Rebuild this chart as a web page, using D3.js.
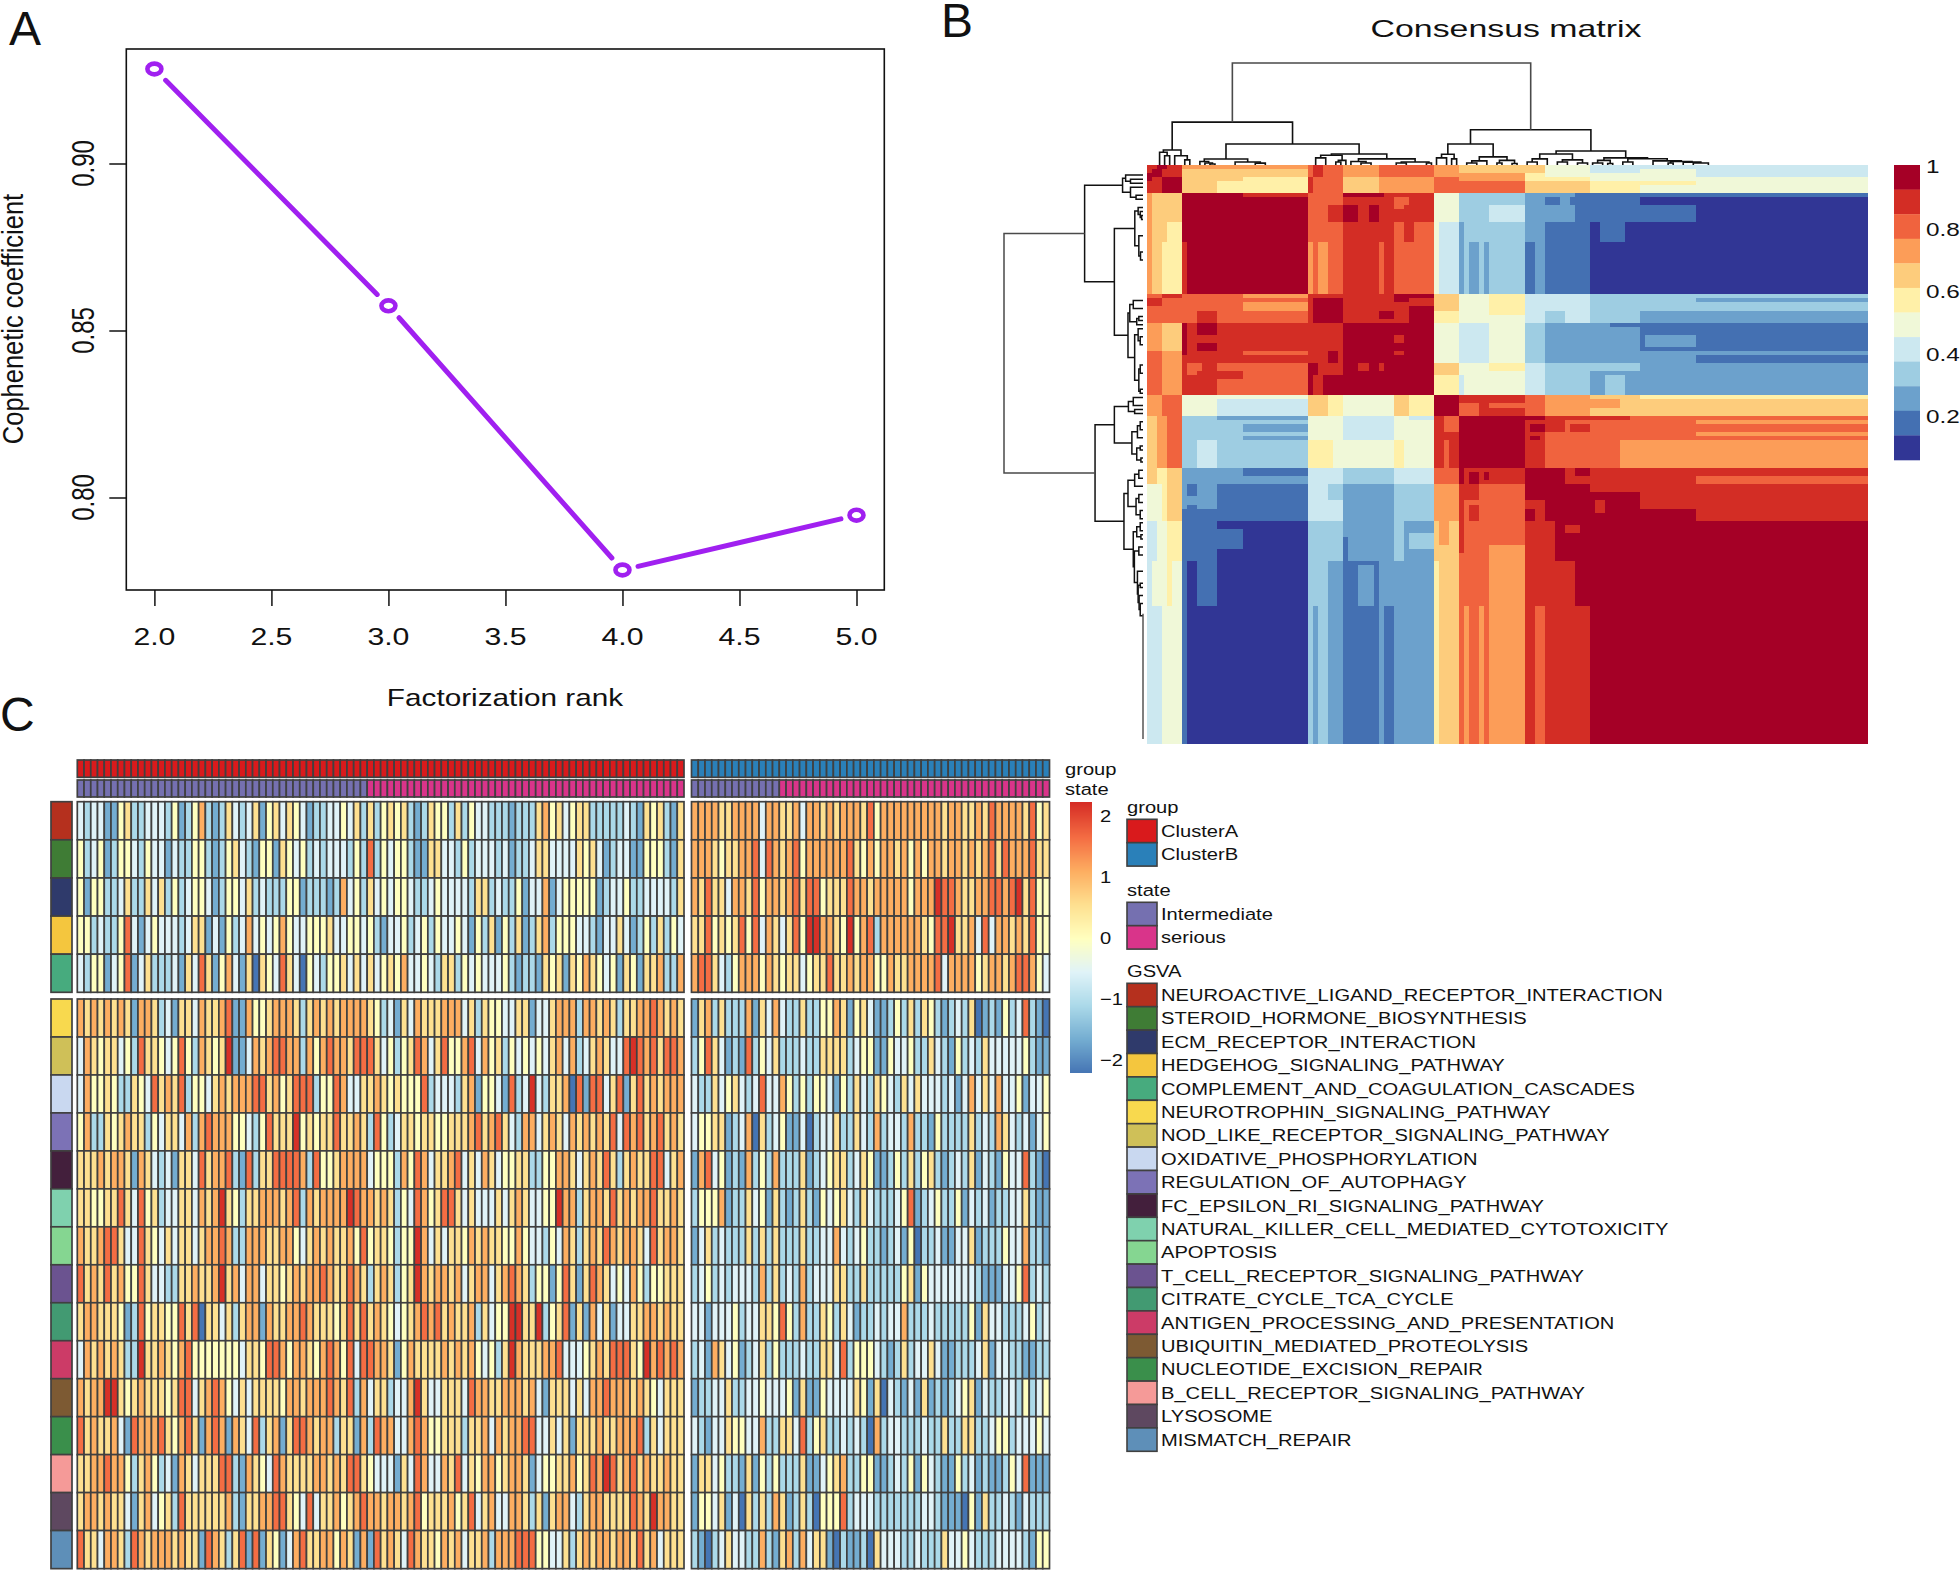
<!DOCTYPE html>
<html><head><meta charset="utf-8">
<script src="https://d3js.org/d3.v7.min.js"></script>
<style>html,body{margin:0;padding:0;background:#fff}svg{display:block}text{font-family:"Liberation Sans",Arial,sans-serif;fill:#111}</style>
</head><body><svg id="c" width="1960" height="1570"></svg>
<script>
// ---------- Panel A data ----------
const rankValues=[2,3,4,5];
const copheneticValues=[0.9283,0.8574,0.7783,0.7947];
const rankTicks=[2,2.5,3,3.5,4,4.5,5];
const copheneticTicks=[0.80,0.85,0.90];

// ---------- Panel B data ----------
const consensusColors=["#313695","#4470b2","#6ca1cc","#9ecde2","#cce8f0","#f0f8d8","#fff0a8","#fdcc7c","#fc9d58","#f0633e","#d32d25","#a50026"];
const consensusLetters="ABCDEFGHIJKL";
const consensusTicks=[1,0.8,0.6,0.4,0.2];
const sampleCount=143;
const bandEdges=[0,3,7,14,19,32,39,49,57,62,68,75,79,88,98,109,143];
const bandLevels=[
"KKHHHJIIJGIGFFFE",
"KLGGGJIIKIJHGGFF",
"HGLLLJKKFDECCBAA",
"HGLLLJKJEDDCBAAA",
"HGLLLJKJEDDCBAAA",
"JJJJJLKKHFGEEDDC",
"IHKKKKLLFEFDCCBB",
"IHKJJKLLGFFEDCCC",
"JKFEEHFGLKKJIHHH",
"GIDDDFEFKLLKJJJJ",
"IJEDDGFFKLLKJIII",
"GHCCCEDEJKKLKKKK",
"FGCBBECDIJJKLKKK",
"FGBAADCCHJIKKLLL",
"FFAAADBCHJIKKLLL",
"EFAAACBCHJIKKLLL"];
const consensusPatches=[
[0,1,0,1,'K'],[0,1,2,3,'L'],[1,3,1,3,'L'],[3,4,0,1,'L'],
[7,32,0,1,'I'],[7,32,1,4,'H'],[7,32,4,7,'G'],[7,14,4,7,'H'],[19,32,3,7,'G'],
[39,57,0,1,'J'],[39,57,1,3,'I'],[39,57,3,5,'H'],[39,57,5,7,'I'],
[57,62,0,3,'I'],[57,62,3,7,'J'],[62,75,0,2,'H'],[62,75,2,4,'I'],[62,75,4,7,'J'],
[75,79,0,2,'H'],[75,79,2,4,'G'],[75,79,4,7,'H'],[79,88,4,7,'H'],
[88,98,0,2,'E'],[88,98,2,4,'F'],[88,98,4,7,'G'],[98,109,0,1,'E'],[98,109,4,5,'G'],
[0,1,10,19,'I'],[5,7,10,14,'H'],[0,3,33,35,'K'],[3,7,32,33,'K'],
[0,3,39,46,'I'],[3,7,39,46,'H'],[0,3,46,57,'J'],[3,7,46,57,'I'],
[7,8,19,32,'K'],[19,32,7,8,'K'],[7,8,39,47,'L'],[10,14,39,42,'L'],[10,14,45,46,'L'],[10,14,37,39,'K'],
[9,11,49,51,'J'],[14,19,52,53,'K'],[19,32,32,33,'I'],[19,32,34,36,'I'],[19,32,46,47,'I'],
[36,39,10,14,'K'],[39,42,10,14,'L'],[39,46,7,8,'L'],[44,45,10,14,'L'],[46,47,19,32,'J'],
[49,52,8,10,'J'],[51,52,14,19,'K'],[32,33,32,39,'K'],[49,52,32,34,'L'],[52,57,32,33,'L'],[52,57,35,38,'L'],
[49,51,42,44,'K'],[49,51,46,47,'K'],[32,33,53,57,'L'],[35,39,52,57,'L'],[36,38,46,49,'L'],
[7,8,88,143,'B'],[8,10,98,109,'A'],[10,14,98,109,'B'],[7,14,85,88,'B'],[8,10,79,82,'B'],[8,10,84,88,'B'],
[14,19,90,95,'B'],[19,32,75,77,'B'],[19,32,64,66,'C'],[19,32,67,68,'C'],[14,32,62,63,'C'],[7,10,62,75,'D'],[14,32,57,58,'F'],
[32,33,109,143,'D'],[34,36,109,143,'D'],[36,39,98,109,'C'],[36,39,79,83,'D'],[37,39,68,75,'F'],[32,36,57,62,'H'],[36,39,57,62,'G'],
[42,45,99,109,'C'],[39,40,92,143,'B'],[46,47,79,143,'C'],[47,49,98,109,'C'],[39,46,79,82,'C'],
[52,57,91,95,'D'],[49,51,85,98,'D'],[49,51,68,75,'G'],[49,52,57,62,'H'],[52,57,62,63,'E'],
[57,58,98,143,'G'],[58,60,88,94,'I'],
[63,64,109,143,'I'],[66,67,109,143,'I'],[62,63,75,79,'L'],[62,63,79,96,'K'],[64,66,77,79,'L'],[64,66,79,83,'K'],[64,66,85,88,'K'],
[62,68,57,59,'K'],[62,68,59,62,'J'],[66,68,57,62,'K'],[79,83,62,66,'K'],[83,88,62,63,'K'],[84,87,64,66,'K'],[88,94,68,75,'J'],
[68,75,57,59,'K'],[68,75,59,60,'J'],[68,75,60,62,'K'],[75,79,62,63,'L'],[76,78,64,66,'L'],[76,78,67,68,'L'],[75,79,79,83,'L'],[75,77,85,88,'L'],
[88,98,79,81,'K'],[88,98,81,88,'L'],[89,91,83,86,'K'],[98,109,85,88,'L'],[109,143,77,79,'J'],[98,143,57,58,'G'],[109,143,46,47,'C']];
// dendrogram merges: [height, left, right], leaves are sample numbers
const clusterFirst=[.147,[.125,2,[.09,3,4]],[.09,5,[.05,7,8]]];
const clusterSecond=[.059,[.035,10,[.02,11,[.01,12,13]]],[.03,17,[.018,21,23]]];
const clusterThird=[.108,[.095,[.07,33,35],[.045,[.03,37,38],39]],[.06,[.035,40,[.02,42,44]],[.03,[.02,49,51],[.02,55,56]]]];
const clusterFourth=[.206,[.105,[.07,57,59],[.06,60,61]],[.08,[.04,[.02,63,65],67],[.045,[.02,69,70],[.015,72,73]]]];
const clusterFifth=[.137,[.108,[.06,[.03,75,77],79],[.05,[.03,81,83],[.02,85,87]]],
 [.07,[.045,[.02,88,90],[.015,91,92]],[.062,[.03,94,96],[.04,100,[.035,[.02,103,104],[.028,106,[.02,108,111]]]]]]];
const dendroTree=[1,[.42,clusterFirst,[.206,clusterSecond,clusterThird]],[.345,clusterFourth,clusterFifth]];
const flatTail=[111,142];

// ---------- Panel C data ----------
const groupLevels=["ClusterA","ClusterB"];
const groupColors=["#d91a1c","#2a80b9"];
const stateLevels=["Intermediate","serious"];
const stateColors=["#7570b0","#d9348a"];
const groupSizes=[90,53];
const intermediateCounts=[43,13];
const pathways=["NEUROACTIVE_LIGAND_RECEPTOR_INTERACTION","STEROID_HORMONE_BIOSYNTHESIS","ECM_RECEPTOR_INTERACTION","HEDGEHOG_SIGNALING_PATHWAY","COMPLEMENT_AND_COAGULATION_CASCADES","NEUROTROPHIN_SIGNALING_PATHWAY","NOD_LIKE_RECEPTOR_SIGNALING_PATHWAY","OXIDATIVE_PHOSPHORYLATION","REGULATION_OF_AUTOPHAGY","FC_EPSILON_RI_SIGNALING_PATHWAY","NATURAL_KILLER_CELL_MEDIATED_CYTOTOXICITY","APOPTOSIS","T_CELL_RECEPTOR_SIGNALING_PATHWAY","CITRATE_CYCLE_TCA_CYCLE","ANTIGEN_PROCESSING_AND_PRESENTATION","UBIQUITIN_MEDIATED_PROTEOLYSIS","NUCLEOTIDE_EXCISION_REPAIR","B_CELL_RECEPTOR_SIGNALING_PATHWAY","LYSOSOME","MISMATCH_REPAIR"];
const pathwayColors=["#b5301e","#3f7c35","#2f3a6b","#f4c63e","#47ab7e","#f8d94e","#cfc058","#c9d8f0","#7c72b6","#431f3c","#7fd1ae","#85d691","#6b5390","#429a72","#cc3b67","#7d5a33","#3a8f4b","#f59a98","#5e4860","#5e8fb8"];
const upperRowCount=5;
// digits index zLevels
const zLevels=[-2.2,-1.65,-1.1,-0.55,0,0.55,1.1,1.65,2.2];
const zColors=["#4575b4","#74add1","#abd9e9","#e0f3f8","#ffffbf","#fee090","#fdae61","#f46d43","#d73027"];
const zTicks=[2,1,0,-1,-2];
const gsvaA=[
["3233114522","3332412462","1253235145","3543122334","3525245452","1254425243","3222122256","4534552222","2321545215"],
["4234124432","4331322442","1245321441","5434232333","2427243442","1155332423","3323122355","3333545312","3311444215"],
["4144223522","5352423443","1244352322","2441222126","3425343443","2234333325","5232241336","1344444123","3422333325"],
["4423224731","3433323551","3142363434","6433444533","4434213342","3424334314","2514251256","2444332133","5312425243"],
["3244134713","5222315375","1463150543","7530432445","3535345463","3432552434","3334212215","4515465434","1541556226"],
["6565656516","6523155365","5671164456","6652565656","6665423153","6555666352","5443355133","5666266565","2556676565"],
["3654553427","5543474265","4581136567","7662646766","5777534245","7635744673","6452434343","5636235653","3787675776"],
["3644542254","3756572443","5656667756","4577724476","3355654544","4723332561","4431723832","5560717735","7157565666"],
["4622545655","2435536267","6664432475","5584545575","5652742355","4554455567","5675326635","6536565657","3767567565"],
["5556566516","5323155375","6672172557","7776274456","6663444264","7635567353","6534455224","4665356575","2565577356"],
["5544557537","4523355365","6854255666","5672656666","8766565243","7645775353","3353565334","4866256657","5656675565"],
["6556775337","5435355356","6762266655","6643565655","6474554244","8635355465","6554464332","4365256576","5665375665"],
["7565756447","5332255655","6856366355","4565667655","7652565245","8656656356","6356765244","1475157653","4364244555"],
["5665554127","4554475705","5352566165","5667655545","7575654345","6767565562","5344885582","4571516351","3355665655"],
["3656565228","5565467444","4444355477","6466546764","7377665146","5555656564","3425865556","6733345657","7754867676"],
["6566885456","5554577356","7643535555","4665666765","7263552336","8533555376","6556665631","5553536676","6656543555"],
["7565563176","6675467516","7616537256","1577656625","5162766336","7644555255","6365667733","5351555655","6667253555"],
["5566766425","6423165355","5772165437","6555566565","7754333153","7633657354","6645665134","4556457687","5675655655"],
["5665655315","6345275555","5562155667","7543735564","5676656656","7455564573","5633665251","5663256655","5576586655"],
["7553665276","5666565517","6525717154","1367556646","5161756537","6554656355","6266677744","3352565665","6657563555"]];
const gsvaB=[
["6666556666","3665563665","6566657466","6666666566","5565766665","745"],
["6665455667","3765674666","6667546466","5646466566","5656757666","755"],
["6575536657","4665675774","5557665666","6646668776","5566776785","744"],
["5574545747","3653574886","6548467266","6666547785","5637366565","744"],
["6775324666","4654553455","7556566446","5566667366","6645665677","643"],
["1562522261","5363225224","4651453112","4252542123","2501214237","210"],
["2475312172","4352223225","5552344114","3342253214","2325333334","211"],
["3225345323","7336424244","3142532543","2535333231","3635363341","334"],
["3445512360","5234113023","3522532623","3262214222","2523265323","134"],
["1673412162","4262225123","4552354112","4252452123","2513214337","210"],
["2444612253","4152125214","3453253222","3471234224","1323122335","211"],
["1352322252","5252225223","3632342212","3140223113","3512224336","221"],
["2342323332","6252326233","3552252222","2451433333","3321113347","232"],
["3313334233","5547426225","4253122323","3622232222","2415332223","423"],
["2316534123","5242223225","5372444321","2523353112","2235133221","122"],
["1223352233","4333415114","3333541503","2131512123","4513223324","234"],
["3213354433","6225537245","2232320623","3222322522","5522344233","343"],
["1553422151","4242225113","4562244112","3241432114","2312112437","111"],
["1443513052","5265125204","4472333222","2222332111","0415223213","222"],
["2102353322","6215626355","1021120533","3223222533","4322233332","144"]];

// ---------- helpers ----------
const svg=d3.select("#c");
function label(x,y,s,size,sx=1,anchor="start",rot=0,g=svg){
  return g.append("text").attr("transform",`translate(${x},${y}) scale(${sx},1) rotate(${rot})`)
    .attr("font-size",size).attr("text-anchor",anchor).text(s);
}
label(9,45,"A",48);label(941,37,"B",48);label(0,731,"C",48);

// ---------- Panel A ----------
{
 const x=d3.scaleLinear().domain([2,5]).range([154.4,856.5]);
 const y=d3.scaleLinear().domain([.8,.9]).range([497.5,163.5]);
 const g=svg.append("g");
 g.append("rect").attr("x",126.3).attr("y",49).attr("width",758).attr("height",541).attr("fill","none").attr("stroke","#111").attr("stroke-width",1.6);
 const ax=g.append("g").attr("transform","translate(0,590)").call(d3.axisBottom(x).tickValues(rankTicks).tickSize(16).tickFormat(""));
 const ay=g.append("g").attr("transform","translate(126.3,0)").call(d3.axisLeft(y).tickValues(copheneticTicks).tickSize(17).tickFormat(""));
 [ax,ay].forEach(a=>{a.selectAll(".domain").remove();a.selectAll("line").attr("stroke","#111").attr("stroke-width",1.5);});
 rankTicks.forEach(t=>label(x(t),645,t.toFixed(1),24,1.26,"middle"));
 copheneticTicks.forEach(t=>label(93.5,y(t),t.toFixed(2),24,1.27,"middle",-90));
 label(505,706,"Factorization rank",24,1.24,"middle");
 label(23,319,"Cophenetic coefficient",25.5,1.14,"middle",-90);
 const pts=rankValues.map((r,i)=>[x(r),y(copheneticValues[i])]);
 d3.pairs(pts).forEach(([a,b])=>{
   const dx=b[0]-a[0],dy=b[1]-a[1],L=Math.hypot(dx,dy),g1=16/L;
   g.append("line").attr("x1",a[0]+dx*g1).attr("y1",a[1]+dy*g1).attr("x2",b[0]-dx*g1).attr("y2",b[1]-dy*g1)
    .attr("stroke","#a020f0").attr("stroke-width",5).attr("stroke-linecap","round");
 });
 g.selectAll("ellipse").data(pts).join("ellipse").attr("cx",d=>d[0]).attr("cy",d=>d[1]).attr("rx",7).attr("ry",5.4)
  .attr("fill","#fff").attr("stroke","#a020f0").attr("stroke-width",4.6);
}

// ---------- Panel B ----------
{
 const samples=d3.range(sampleCount);
 const X0=1147,X1=1867,Y0=165,Y1=743;
 const xb=d3.scaleBand().domain(samples).range([X0,X1]);
 const yb=d3.scaleBand().domain(samples).range([Y0,Y1]);
 const bandOf=d3.bisector(d=>d).right;
 const M=samples.map(r=>samples.map(c=>bandLevels[bandOf(bandEdges,r)-1][bandOf(bandEdges,c)-1]));
 consensusPatches.forEach(([r0,r1,c0,c1,v])=>{
   for(let r=r0;r<r1;r++)for(let c=c0;c<c1;c++){M[r][c]=v;M[c][r]=v;}
 });
 const fill=d3.scaleOrdinal().domain(consensusLetters.split("")).range(consensusColors);
 const cells=[];samples.forEach(r=>samples.forEach(c=>cells.push({r,c,v:M[r][c]})));
 svg.append("g").attr("shape-rendering","crispEdges").selectAll("rect").data(cells).join("rect")
  .attr("x",d=>xb(d.c)).attr("y",d=>yb(d.r)).attr("width",xb.bandwidth()+.6).attr("height",yb.bandwidth()+.6).attr("fill",d=>fill(d.v));
 // dendrograms share the same merges
 const hTop=d3.scaleLinear().domain([0,1]).range([165,63]);
 const hLeft=d3.scaleLinear().domain([0,1]).range([1143,1004]);
 const top=svg.append("g").attr("fill","none").attr("stroke","#111").attr("stroke-width",1.6);
 const left=svg.append("g").attr("fill","none").attr("stroke","#111").attr("stroke-width",1.5);
 function walk(n){
   if(typeof n==="number")return{p:n+.5,h:0};
   const a=walk(n[1]),b=walk(n[2]),h=n[0];
   const st=h===1?"#4a4a4a":"#111";
   top.append("path").attr("stroke",st).attr("d",`M${X0+a.p*xb.bandwidth()},${hTop(a.h)}V${hTop(h)}H${X0+b.p*xb.bandwidth()}V${hTop(b.h)}`);
   left.append("path").attr("stroke",st).attr("d",`M${hLeft(a.h)},${Y0+a.p*yb.bandwidth()}H${hLeft(h)}V${Y0+b.p*yb.bandwidth()}H${hLeft(b.h)}`);
   return{p:(a.p+b.p)/2,h};
 }
 walk(dendroTree);
 left.append("line").attr("x1",hLeft(0)).attr("x2",hLeft(0)).attr("y1",yb(flatTail[0])).attr("y2",yb(flatTail[1])).attr("stroke","#555");
 label(1506,37,"Consensus matrix",24,1.41,"middle");
 // colour key
 const lv=d3.range(consensusColors.length).reverse();
 const ky=d3.scaleBand().domain(lv).range([165,460]);
 svg.append("g").selectAll("rect").data(lv).join("rect").attr("x",1894).attr("width",26).attr("y",d=>ky(d)).attr("height",ky.bandwidth()+.3).attr("fill",d=>consensusColors[d]);
 const kt=d3.scaleLinear().domain([1,.2]).range([166,416]);
 consensusTicks.forEach(t=>label(1926,kt(t)+7,String(t),19,1.28));
}

// ---------- Panel C ----------
{
 const xA=d3.scaleBand().domain(d3.range(groupSizes[0])).range([77.3,684]);
 const xB=d3.scaleBand().domain(d3.range(groupSizes[1])).range([691.5,1049.5]);
 const yU=d3.scaleBand().domain(d3.range(upperRowCount)).range([801.7,992.3]);
 const yL=d3.scaleBand().domain(d3.range(upperRowCount,pathways.length)).range([999,1568.5]);
 const yR=i=>i<upperRowCount?yU(i):yL(i);
 const hR=yU.bandwidth();
 const z=d3.scaleLinear().domain(zLevels).range(zColors);
 const border="#404040",bw=1.7;
 [[gsvaA,xA,0],[gsvaB,xB,1]].forEach(([rows,x,gi])=>{
   const n=groupSizes[gi];
   const flat=[];
   rows.forEach((parts,r)=>{
     const s=parts.join("");
     if(s.length!==n)throw new Error("row "+r+" group "+gi+" len "+s.length);
     for(let c=0;c<n;c++)flat.push({r,c,v:zLevels[+s[c]]});
   });
   const g=svg.append("g");
   g.selectAll("rect.h").data(flat).join("rect").attr("class","h")
    .attr("x",d=>x(d.c)).attr("y",d=>yR(d.r)).attr("width",x.bandwidth()).attr("height",hR)
    .attr("fill",d=>z(d.v)).attr("stroke",border).attr("stroke-width",bw);
   const t=svg.append("g");
   t.selectAll("rect.g").data(d3.range(n)).join("rect").attr("class","g")
    .attr("x",c=>x(c)).attr("y",760).attr("width",x.bandwidth()).attr("height",17.3)
    .attr("fill",groupColors[gi]).attr("stroke",border).attr("stroke-width",bw);
   t.selectAll("rect.s").data(d3.range(n)).join("rect").attr("class","s")
    .attr("x",c=>x(c)).attr("y",780).attr("width",x.bandwidth()).attr("height",17)
    .attr("fill",c=>c<intermediateCounts[gi]?stateColors[0]:stateColors[1]).attr("stroke",border).attr("stroke-width",bw);
 });
 // row annotation
 svg.append("g").selectAll("rect").data(pathways).join("rect")
  .attr("x",51).attr("width",21).attr("y",(d,i)=>yR(i)).attr("height",hR)
  .attr("fill",(d,i)=>pathwayColors[i]).attr("stroke",border).attr("stroke-width",bw);
 const S=1.185,F=17;
 label(1065,775,"group",F,S);label(1065,795,"state",F,S);
 // colour bar
 const cb=d3.scaleLinear().domain([2.23,-2.21]).range([802,1073]);
 const steps=d3.range(802,1073,1);
 svg.append("g").attr("shape-rendering","crispEdges").selectAll("rect").data(steps).join("rect")
  .attr("x",1070).attr("width",21.5).attr("y",d=>d).attr("height",1.4).attr("fill",d=>z(cb.invert(d)));
 zTicks.forEach(t=>label(1100,cb(t)+6,String(t).replace("-","\u2212"),F,S));
 // legends
 const lx=1127,lw=30,rowH=23.4,tx=1161;
 function legend(title,names,cols,y0){
   label(lx,y0-18,title,F,S);
   svg.append("g").selectAll("rect").data(names).join("rect").attr("x",lx).attr("width",lw)
     .attr("y",(d,i)=>y0+i*rowH-rowH/2).attr("height",rowH)
     .attr("fill",(d,i)=>cols[i]).attr("stroke",border).attr("stroke-width",1.6);
   names.forEach((n,i)=>label(tx,y0+i*rowH+6,n,F,S));
 }
 legend("group",groupLevels,groupColors,831);
 legend("state",stateLevels,stateColors,914);
 legend("GSVA",pathways,pathwayColors,995);
}
</script></body></html>
